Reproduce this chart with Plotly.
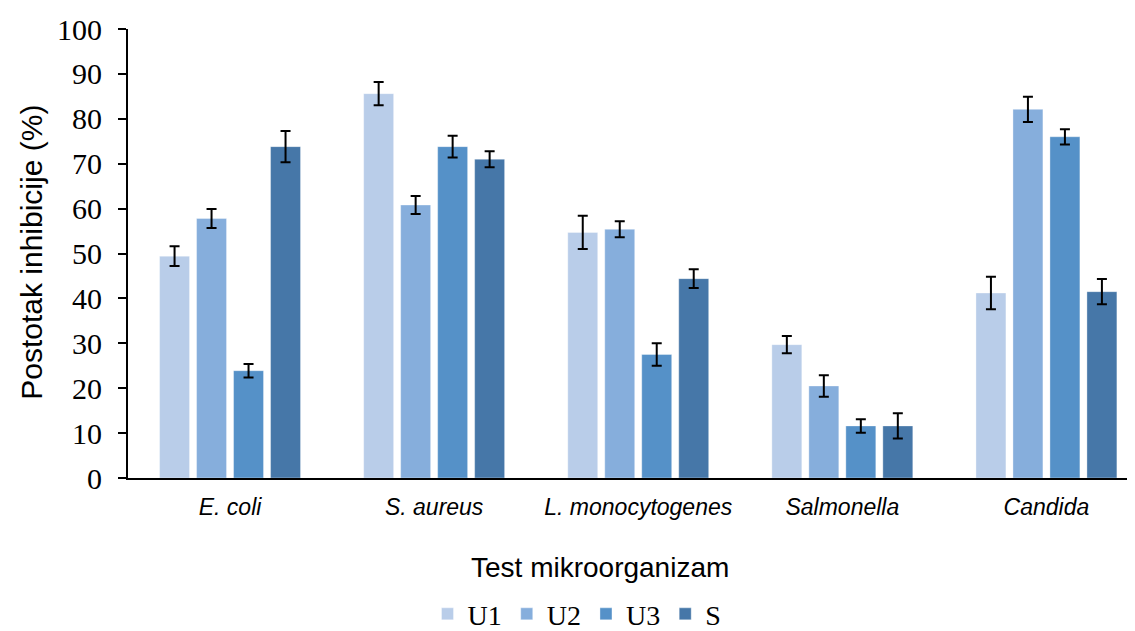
import plotly.graph_objects as go

categories = ["<i>E. coli</i>", "<i>S. aureus</i>", "<i>L. monocytogenes</i>", "<i>Salmonella</i>", "<i>Candida</i>"]
series_names = ["U1", "U2", "U3", "S"]
u1 = [49.4, 85.6, 54.7, 29.7, 41.2]
u1_err = [2.2, 2.6, 3.7, 1.9, 3.6]
u2 = [57.8, 60.8, 55.4, 20.5, 82.1]
u2_err = [2.1, 2.0, 1.8, 2.4, 2.8]
u3 = [23.9, 73.8, 27.5, 11.6, 76.0]
u3_err = [1.5, 2.4, 2.5, 1.5, 1.7]
s = [73.8, 71.0, 44.4, 11.6, 41.5]
s_err = [3.5, 1.8, 2.1, 2.8, 2.8]
y_ticks = [0, 10, 20, 30, 40, 50, 60, 70, 80, 90, 100]

colors = ["#b9cde9", "#86aedc", "#5591c8", "#4677a8"]
values = [u1, u2, u3, s]
errors = [u1_err, u2_err, u3_err, s_err]

fig = go.Figure()
for name, vals, errs, col in zip(series_names, values, errors, colors):
    fig.add_trace(go.Bar(
        name=name, x=categories, y=vals,
        marker=dict(color=col, line=dict(color="rgba(255,255,255,0.35)", width=1)),
        error_y=dict(type="data", array=errs, visible=True, color="black", thickness=2, width=5),
    ))

# page body adds an 8px offset; figure sized so plot area lands where the reference has it
PH = 448.5
fig.update_layout(
    width=1127, height=623,
    margin=dict(l=120, r=0, t=21, b=153, autoexpand=False),
    paper_bgcolor="white", plot_bgcolor="white",
    barmode="group", bargap=0.275, bargroupgap=0.19,
    showlegend=True,
    legend=dict(orientation="h", x=(577 - 128) / 1007, xanchor="center",
                y=(478 - 614) / PH, yanchor="middle",
                font=dict(family="Liberation Serif, Times New Roman, serif", size=28, color="black"),
                itemwidth=30, tracegroupgap=0),
    xaxis=dict(range=[-0.5, 4.434], showline=True, linecolor="black", linewidth=2,
               ticks="", showgrid=False, zeroline=False,
               tickfont=dict(family="Liberation Sans, Arial, sans-serif", size=23, color="black"),
               ticklabelstandoff=7),
    yaxis=dict(range=[0, 100], tickvals=y_ticks, showline=True, linecolor="black", linewidth=2,
               ticks="outside", ticklen=8, tickwidth=2, tickcolor="black",
               showgrid=False, zeroline=False,
               tickfont=dict(family="Liberation Serif, Times New Roman, serif", size=30, color="black"),
               ticklabelstandoff=10),
    annotations=[
        dict(text="Test mikroorganizam", xref="paper", yref="paper",
             x=(600 - 128) / 1007, y=(478 - 567) / PH, xanchor="center", yanchor="middle",
             showarrow=False, font=dict(family="Liberation Sans, Arial, sans-serif", size=28, color="black")),
        dict(text="Postotak inhibicije (%)", xref="paper", yref="paper",
             x=(32 - 128) / 1007, y=(478 - 253) / PH, xanchor="center", yanchor="middle",
             textangle=-90, showarrow=False,
             font=dict(family="Liberation Sans, Arial, sans-serif", size=30, color="black")),
    ],
)

fig.write_html("out.html")
